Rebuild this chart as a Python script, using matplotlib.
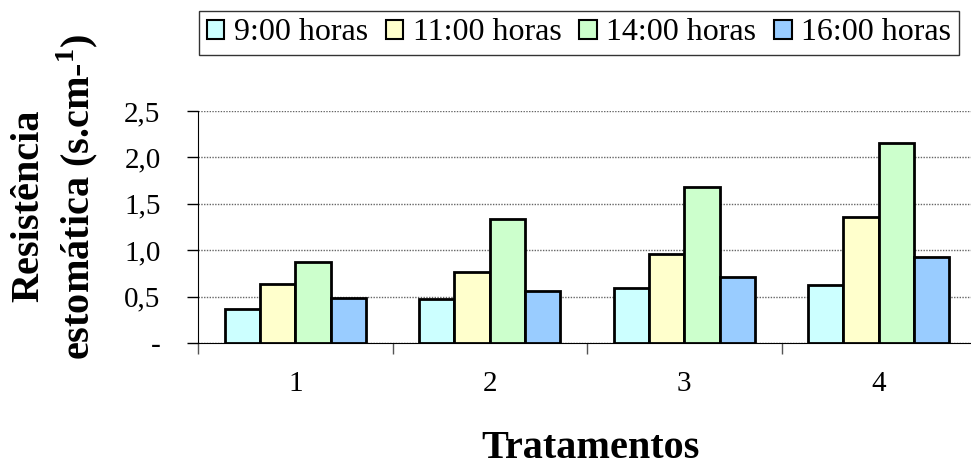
import numpy as np
import matplotlib.pyplot as plt

plt.rcParams['font.family'] = ['Liberation Serif', 'DejaVu Serif']
plt.rcParams['mathtext.fontset'] = 'custom'
plt.rcParams['mathtext.rm'] = 'Liberation Serif'
plt.rcParams['mathtext.bf'] = 'Liberation Serif:bold'

tratamentos = ['1', '2', '3', '4']
series = ['9:00 horas', '11:00 horas', '14:00 horas', '16:00 horas']
h09 = [0.37, 0.47, 0.59, 0.62]
h11 = [0.64, 0.76, 0.96, 1.36]
h14 = [0.87, 1.34, 1.68, 2.15]
h16 = [0.48, 0.56, 0.71, 0.93]
colors = ['#ccffff', '#ffffcc', '#ccffcc', '#99ccff']

yticks = [0, 0.5, 1.0, 1.5, 2.0, 2.5]
ylabels = ['-', '0,5', '1,0', '1,5', '2,0', '2,5']

W, H = 971, 466
fig = plt.figure(figsize=(W / 100, H / 100), dpi=100)
ax = fig.add_axes([198 / W, 1 - 343 / H, (976 - 198) / W, (343 - 111) / H])

x = np.arange(len(tratamentos))
w = 1 / 5.5
for i, (vals, c) in enumerate(zip([h09, h11, h14, h16], colors)):
    ax.bar(x + (i - 1.5) * w, vals, w, color=c, edgecolor='black',
           linewidth=2, label=series[i], zorder=3)

ax.set_xlim(-0.5, len(tratamentos) - 0.5)
ax.set_ylim(0, 2.5)
ax.set_yticks(yticks)
ax.set_yticklabels(ylabels, fontsize=21)
ax.set_xticks(x)
ax.set_xticklabels(tratamentos, fontsize=21)
ax.set_xticks(np.arange(len(tratamentos) + 1) - 0.5, minor=True)
ax.tick_params(axis='x', which='major', length=0, pad=20)
ax.tick_params(axis='x', which='minor', length=8, width=1, color='#555555')
ax.tick_params(axis='y', length=8, width=1, pad=19)
ax.grid(axis='y', color='#666666', linestyle=(0, (1, 1)), linewidth=1, zorder=0)
ax.spines['top'].set_visible(False)
ax.spines['right'].set_visible(False)

fig.text(591 / W, 1 - 458 / H, 'Tratamentos', fontsize=29, fontweight='bold',
         ha='center', va='baseline')
fig.text(29 / W, 1 - 206 / H, 'Resistência', fontsize=29, fontweight='bold',
         rotation=90, ha='center', va='center')
fig.text(77 / W, 1 - 197 / H, 'estomática (s.cm-$^{\\mathbf{1}}$)', fontsize=29,
         fontweight='bold', rotation=90, ha='center', va='center')

leg = ax.legend(loc='center', bbox_to_anchor=(579 / W, 1 - 33 / H),
                bbox_transform=fig.transFigure, ncol=4,
                prop={'family': ['Liberation Serif'], 'size': 23},
                frameon=True, fancybox=False, edgecolor='black',
                handlelength=0.55, handleheight=0.55, handletextpad=0.3,
                columnspacing=0.55, borderpad=0.25, borderaxespad=0)
leg.get_frame().set_linewidth(1)
for p in leg.get_patches():
    p.set_linewidth(1.5)

fig.savefig('out.png', dpi=100)
